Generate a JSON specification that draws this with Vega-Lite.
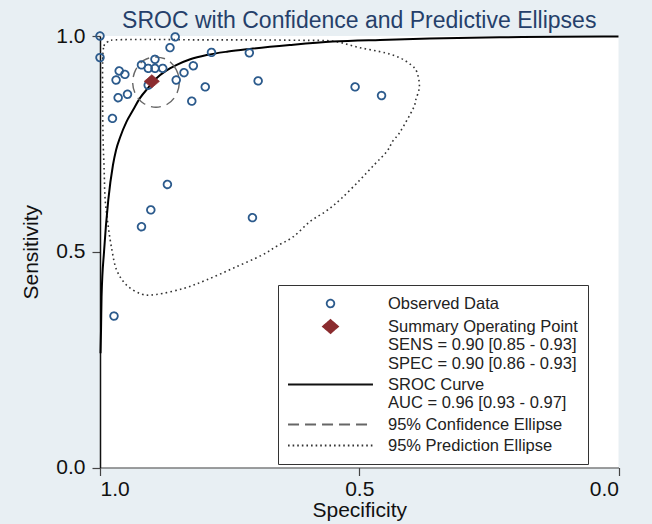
{
  "$schema": "https://vega.github.io/schema/vega-lite/v6.json",
  "width": 518.5,
  "height": 431.5,
  "autosize": "none",
  "padding": {"left": 100, "top": 36, "right": 33.5, "bottom": 56.5},
  "background": "#e8eff3",
  "config": {
    "font": "Liberation Sans",
    "view": {"fill": "white", "stroke": null},
    "legend": {
      "orient": "none",
      "legendX": 178,
      "legendY": 249,
      "padding": 10,
      "strokeColor": "#333",
      "fillColor": "white",
      "symbolSize": 216,
      "symbolOffset": 34,
      "symbolStrokeWidth": 1.8,
      "symbolOpacity": 1,
      "labelOffset": 49,
      "rowPadding": 4,
      "labelFontSize": 16.5,
      "labelColor": "#222",
      "labelLimit": 400
    }
  },
  "title": {
    "text": "SROC with Confidence and Predictive Ellipses",
    "fontSize": 23,
    "fontWeight": "normal",
    "color": "#253f6a",
    "anchor": "middle",
    "offset": -8
  },
  "datasets": {
    "obs": [
      {"spec": 1.0, "sens": 1.0, "series": "Observed Data"},
      {"spec": 0.855, "sens": 0.998, "series": "Observed Data"},
      {"spec": 1.0, "sens": 0.950, "series": "Observed Data"},
      {"spec": 0.865, "sens": 0.973, "series": "Observed Data"},
      {"spec": 0.785, "sens": 0.962, "series": "Observed Data"},
      {"spec": 0.712, "sens": 0.961, "series": "Observed Data"},
      {"spec": 0.963, "sens": 0.919, "series": "Observed Data"},
      {"spec": 0.952, "sens": 0.911, "series": "Observed Data"},
      {"spec": 0.969, "sens": 0.898, "series": "Observed Data"},
      {"spec": 0.920, "sens": 0.933, "series": "Observed Data"},
      {"spec": 0.894, "sens": 0.946, "series": "Observed Data"},
      {"spec": 0.907, "sens": 0.925, "series": "Observed Data"},
      {"spec": 0.894, "sens": 0.925, "series": "Observed Data"},
      {"spec": 0.879, "sens": 0.925, "series": "Observed Data"},
      {"spec": 0.820, "sens": 0.931, "series": "Observed Data"},
      {"spec": 0.838, "sens": 0.915, "series": "Observed Data"},
      {"spec": 0.853, "sens": 0.898, "series": "Observed Data"},
      {"spec": 0.797, "sens": 0.882, "series": "Observed Data"},
      {"spec": 0.695, "sens": 0.896, "series": "Observed Data"},
      {"spec": 0.907, "sens": 0.886, "series": "Observed Data"},
      {"spec": 0.965, "sens": 0.857, "series": "Observed Data"},
      {"spec": 0.947, "sens": 0.865, "series": "Observed Data"},
      {"spec": 0.823, "sens": 0.849, "series": "Observed Data"},
      {"spec": 0.976, "sens": 0.809, "series": "Observed Data"},
      {"spec": 0.508, "sens": 0.882, "series": "Observed Data"},
      {"spec": 0.457, "sens": 0.862, "series": "Observed Data"},
      {"spec": 0.870, "sens": 0.656, "series": "Observed Data"},
      {"spec": 0.902, "sens": 0.597, "series": "Observed Data"},
      {"spec": 0.920, "sens": 0.558, "series": "Observed Data"},
      {"spec": 0.706, "sens": 0.579, "series": "Observed Data"},
      {"spec": 0.973, "sens": 0.351, "series": "Observed Data"}
    ],
    "summary": [
      {"spec": 0.90, "sens": 0.895, "series": "Summary Operating Point"}
    ],
    "sroc": [
      {"ord": 1, "spec": 0.999, "sens": 0.265},
      {"ord": 2, "spec": 0.998, "sens": 0.319},
      {"ord": 3, "spec": 0.997, "sens": 0.396},
      {"ord": 4, "spec": 0.992, "sens": 0.504},
      {"ord": 5, "spec": 0.984, "sens": 0.620},
      {"ord": 6, "spec": 0.975, "sens": 0.701},
      {"ord": 7, "spec": 0.969, "sens": 0.736},
      {"ord": 8, "spec": 0.961, "sens": 0.766},
      {"ord": 9, "spec": 0.949, "sens": 0.801},
      {"ord": 10, "spec": 0.936, "sens": 0.829},
      {"ord": 11, "spec": 0.923, "sens": 0.856},
      {"ord": 12, "spec": 0.907, "sens": 0.880},
      {"ord": 13, "spec": 0.891, "sens": 0.902},
      {"ord": 14, "spec": 0.873, "sens": 0.919},
      {"ord": 15, "spec": 0.852, "sens": 0.933},
      {"ord": 16, "spec": 0.826, "sens": 0.946},
      {"ord": 17, "spec": 0.794, "sens": 0.956},
      {"ord": 18, "spec": 0.753, "sens": 0.964},
      {"ord": 19, "spec": 0.711, "sens": 0.970},
      {"ord": 20, "spec": 0.634, "sens": 0.979},
      {"ord": 21, "spec": 0.551, "sens": 0.987},
      {"ord": 22, "spec": 0.460, "sens": 0.991},
      {"ord": 23, "spec": 0.364, "sens": 0.994},
      {"ord": 24, "spec": 0.229, "sens": 0.997},
      {"ord": 25, "spec": 0.113, "sens": 0.998},
      {"ord": 26, "spec": 0.0, "sens": 0.999}
    ],
    "conf": [
      {"ord": 1, "spec": 0.847, "sens": 0.893},
      {"ord": 2, "spec": 0.853, "sens": 0.922},
      {"ord": 3, "spec": 0.869, "sens": 0.944},
      {"ord": 4, "spec": 0.892, "sens": 0.951},
      {"ord": 5, "spec": 0.915, "sens": 0.944},
      {"ord": 6, "spec": 0.931, "sens": 0.922},
      {"ord": 7, "spec": 0.937, "sens": 0.893},
      {"ord": 8, "spec": 0.931, "sens": 0.864},
      {"ord": 9, "spec": 0.915, "sens": 0.843},
      {"ord": 10, "spec": 0.892, "sens": 0.835},
      {"ord": 11, "spec": 0.869, "sens": 0.843},
      {"ord": 12, "spec": 0.853, "sens": 0.864}
    ],
    "pred": [
      {"ord": 1, "spec": 0.9948, "sens": 0.944},
      {"ord": 2, "spec": 0.9923, "sens": 0.977},
      {"ord": 3, "spec": 0.9846, "sens": 0.987},
      {"ord": 4, "spec": 0.971, "sens": 0.991},
      {"ord": 5, "spec": 0.904, "sens": 0.992},
      {"ord": 6, "spec": 0.807, "sens": 0.991},
      {"ord": 7, "spec": 0.711, "sens": 0.991},
      {"ord": 8, "spec": 0.614, "sens": 0.990},
      {"ord": 9, "spec": 0.551, "sens": 0.988},
      {"ord": 10, "spec": 0.499, "sens": 0.973},
      {"ord": 11, "spec": 0.450, "sens": 0.961},
      {"ord": 12, "spec": 0.421, "sens": 0.949},
      {"ord": 13, "spec": 0.400, "sens": 0.933},
      {"ord": 14, "spec": 0.389, "sens": 0.917},
      {"ord": 15, "spec": 0.384, "sens": 0.883},
      {"ord": 16, "spec": 0.391, "sens": 0.852},
      {"ord": 17, "spec": 0.396, "sens": 0.832},
      {"ord": 18, "spec": 0.421, "sens": 0.778},
      {"ord": 19, "spec": 0.435, "sens": 0.757},
      {"ord": 20, "spec": 0.447, "sens": 0.732},
      {"ord": 21, "spec": 0.470, "sens": 0.703},
      {"ord": 22, "spec": 0.499, "sens": 0.666},
      {"ord": 23, "spec": 0.534, "sens": 0.624},
      {"ord": 24, "spec": 0.563, "sens": 0.595},
      {"ord": 25, "spec": 0.595, "sens": 0.570},
      {"ord": 26, "spec": 0.627, "sens": 0.535},
      {"ord": 27, "spec": 0.659, "sens": 0.513},
      {"ord": 28, "spec": 0.688, "sens": 0.492},
      {"ord": 29, "spec": 0.743, "sens": 0.462},
      {"ord": 30, "spec": 0.794, "sens": 0.435},
      {"ord": 31, "spec": 0.839, "sens": 0.415},
      {"ord": 32, "spec": 0.891, "sens": 0.401},
      {"ord": 33, "spec": 0.920, "sens": 0.402},
      {"ord": 34, "spec": 0.949, "sens": 0.423},
      {"ord": 35, "spec": 0.968, "sens": 0.458},
      {"ord": 36, "spec": 0.977, "sens": 0.504},
      {"ord": 37, "spec": 0.984, "sens": 0.558},
      {"ord": 38, "spec": 0.990, "sens": 0.620},
      {"ord": 39, "spec": 0.992, "sens": 0.689},
      {"ord": 40, "spec": 0.994, "sens": 0.759},
      {"ord": 41, "spec": 0.995, "sens": 0.852}
    ]
  },
  "encoding": {
    "x": {
      "field": "spec", "type": "quantitative",
      "scale": {"domain": [0, 1], "reverse": true, "nice": false},
      "axis": {
        "title": "Specificity", "values": [0, 0.5, 1], "format": ".1f",
        "grid": false, "domainColor": "#444", "domainWidth": 1.2,
        "tickColor": "#444", "tickSize": 8, "tickWidth": 1.2,
        "labelFontSize": 21, "labelColor": "#111", "labelPadding": 3,
        "titleFontSize": 21, "titleFontWeight": "normal", "titleColor": "#111", "titlePadding": 0
      }
    },
    "y": {
      "field": "sens", "type": "quantitative",
      "scale": {"domain": [0, 1], "nice": false},
      "axis": {
        "title": "Sensitivity", "values": [0, 0.5, 1], "format": ".1f",
        "grid": false, "domainColor": "#111", "domainWidth": 1.5,
        "tickColor": "#444", "tickSize": 8, "tickWidth": 1.2,
        "labelFontSize": 21, "labelColor": "#111", "labelPadding": 7,
        "titleFontSize": 21, "titleFontWeight": "normal", "titleColor": "#111", "titlePadding": 14
      }
    }
  },
  "layer": [
    {
      "data": {"name": "pred"},
      "mark": {"type": "line", "interpolate": "cardinal-closed", "color": "#333", "strokeWidth": 1.6, "strokeDash": [1.6, 3.2], "strokeCap": "butt"},
      "encoding": {"order": {"field": "ord", "type": "quantitative"}}
    },
    {
      "data": {"name": "sroc"},
      "mark": {"type": "line", "interpolate": "monotone", "color": "#000", "strokeWidth": 2},
      "encoding": {"order": {"field": "ord", "type": "quantitative"}}
    },
    {
      "data": {"name": "conf"},
      "mark": {"type": "line", "interpolate": "cardinal-closed", "color": "#666", "strokeWidth": 1.4, "strokeDash": [10, 6]},
      "encoding": {"order": {"field": "ord", "type": "quantitative"}}
    },
    {
      "encoding": {
        "shape": {
          "field": "series", "type": "nominal",
          "scale": {
            "domain": ["Observed Data", "Summary Operating Point", "SROC Curve", "95% Confidence Ellipse", "95% Prediction Ellipse"],
            "range": ["M0.517,0A0.517,0.517,0,1,1,-0.517,0A0.517,0.517,0,1,1,0.517,0Z", "M0,-0.884L1.02,0L0,0.884L-1.02,0Z", "M-5.78,0L5.78,0", "M-5.78,0L5.78,0", "M-5.78,0L5.78,0"]
          },
          "legend": {
            "title": null,
            "labelExpr": "datum.value == 'Summary Operating Point' ? ['Summary Operating Point\u00a0\u00a0\u00a0\u00a0\u00a0\u00a0', 'SENS = 0.90 [0.85 - 0.93]', 'SPEC = 0.90 [0.86 - 0.93]'] : datum.value == 'SROC Curve' ? ['SROC Curve', 'AUC = 0.96 [0.93 - 0.97]'] : datum.label"
          }
        },
        "fill": {
          "field": "series", "type": "nominal",
          "scale": {
            "domain": ["Observed Data", "Summary Operating Point", "SROC Curve", "95% Confidence Ellipse", "95% Prediction Ellipse"],
            "range": ["transparent", "#8b2c2f", "transparent", "transparent", "transparent"]
          },
          "legend": {
            "title": null,
            "labelExpr": "datum.value == 'Summary Operating Point' ? ['Summary Operating Point\u00a0\u00a0\u00a0\u00a0\u00a0\u00a0', 'SENS = 0.90 [0.85 - 0.93]', 'SPEC = 0.90 [0.86 - 0.93]'] : datum.value == 'SROC Curve' ? ['SROC Curve', 'AUC = 0.96 [0.93 - 0.97]'] : datum.label"
          }
        },
        "stroke": {
          "field": "series", "type": "nominal",
          "scale": {
            "domain": ["Observed Data", "Summary Operating Point", "SROC Curve", "95% Confidence Ellipse", "95% Prediction Ellipse"],
            "range": ["#2b5a8c", "#8b2c2f", "#111111", "#666666", "#333333"]
          },
          "legend": {
            "title": null,
            "labelExpr": "datum.value == 'Summary Operating Point' ? ['Summary Operating Point\u00a0\u00a0\u00a0\u00a0\u00a0\u00a0', 'SENS = 0.90 [0.85 - 0.93]', 'SPEC = 0.90 [0.86 - 0.93]'] : datum.value == 'SROC Curve' ? ['SROC Curve', 'AUC = 0.96 [0.93 - 0.97]'] : datum.label"
          }
        },
        "strokeDash": {
          "field": "series", "type": "nominal",
          "scale": {
            "domain": ["Observed Data", "Summary Operating Point", "SROC Curve", "95% Confidence Ellipse", "95% Prediction Ellipse"],
            "range": [[1, 0], [1, 0], [1, 0], [11, 6], [1.6, 3]]
          },
          "legend": {
            "title": null,
            "labelExpr": "datum.value == 'Summary Operating Point' ? ['Summary Operating Point\u00a0\u00a0\u00a0\u00a0\u00a0\u00a0', 'SENS = 0.90 [0.85 - 0.93]', 'SPEC = 0.90 [0.86 - 0.93]'] : datum.value == 'SROC Curve' ? ['SROC Curve', 'AUC = 0.96 [0.93 - 0.97]'] : datum.label"
          }
        }
      },
      "layer": [
        {
          "data": {"name": "obs"},
          "mark": {"type": "point", "size": 216, "strokeWidth": 1.8, "opacity": 1}
        },
        {
          "data": {"name": "summary"},
          "mark": {"type": "point", "size": 216, "strokeWidth": 1, "opacity": 1}
        }
      ]
    }
  ]
}
